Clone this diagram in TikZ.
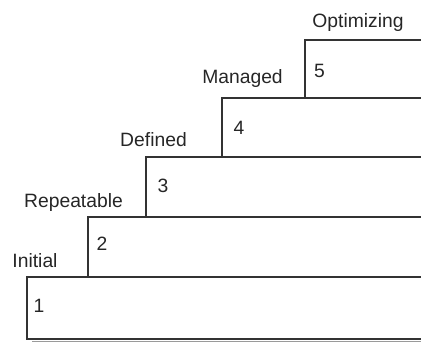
\documentclass[tikz,border=0pt]{standalone}
\usepackage{fontspec}
\setmainfont{Liberation Sans}
\usetikzlibrary{positioning}
\definecolor{stepgrey}{HTML}{333333}
\definecolor{shadowgrey}{HTML}{9A9A9A}

\begin{document}
\begin{tikzpicture}[
  x=1bp, y=-1bp,
  font=\fontsize{19.3bp}{23bp}\selectfont,
  stepline/.style={draw=stepgrey, line width=1.4bp},
  shadowline/.style={draw=shadowgrey, line width=1.6bp},
  lvl/.style={inner sep=0pt, anchor=base, text=black!85},
  num/.style={inner sep=0pt, text=black!85}
]
\useasboundingbox (0,0) rectangle (421,342);
% ----- step corners (left, top) -----
\coordinate (s1) at (27,277);
\coordinate (s2) at (88,217);
\coordinate (s3) at (146,157);
\coordinate (s4) at (222,98);
\coordinate (s5) at (305,40);
\coordinate (base) at (27,339);
\coordinate (edge) at (421,339);
% ----- staircase -----
\draw[shadowline] ([shift={(5,2.6)}]base) -- ([shift={(0,2.6)}]edge);
\draw[stepline] (edge) -- (base) -- (s1) -- (s1 -| edge);
\foreach \a/\b in {s2/s1, s3/s2, s4/s3, s5/s4}{\draw[stepline] (\a |- \b) -- (\a) -- (\a -| edge);}
% ----- level numbers -----
\foreach \i/\dx/\dy in {1/12/29, 2/14/27, 3/17/28.5, 4/17/29.5, 5/14.5/31}
  {\node[num] (n\i) at ([shift={(\dx,\dy)}]s\i) {\i};}
% ----- level names -----
\node[lvl] (initial) at (35,267) {Initial};
\node[lvl] (repeatable) at (73.5,207) {Repeatable};
\node[lvl] (defined) at (153.5,146.5) {Defined};
\node[lvl] (managed) at (242.5,83) {Managed};
\node[lvl] (optimizing) at (358,27) {Optimizing};
\end{tikzpicture}
\end{document}
